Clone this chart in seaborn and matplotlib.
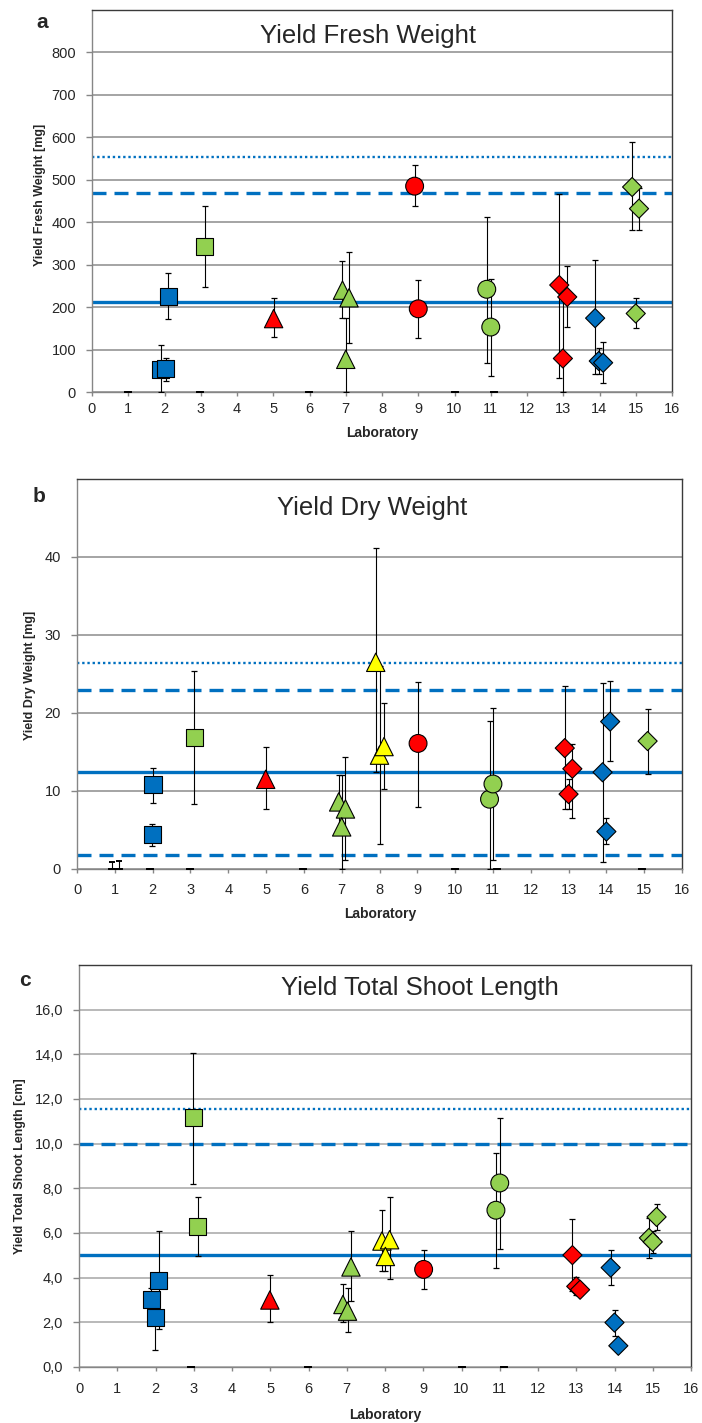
import pandas as pd
import seaborn as sns
import matplotlib.pyplot as plt
from matplotlib.ticker import FuncFormatter

# ---- values ----
# a: Yield Fresh Weight [mg]
lab_a = [2, 2, 2, 3, 5, 7, 7, 7, 9, 9, 11, 11, 13, 13, 13, 14, 14, 14, 15, 15, 15]
x_a = [1.9, 2.03, 2.1, 3.11, 5.01, 6.91, 7.09, 7.0, 8.9, 9.0, 10.89, 11.0,
       12.89, 13.11, 12.99, 13.88, 13.98, 14.1, 14.9, 15.09, 15.0]
y_a = [52, 55, 226, 343, 173, 240, 222, 77, 485, 196, 242, 153,
       252, 224, 79, 174, 73, 69, 483, 432, 185]
lo_a = [52, 28, 54, 95, 44, 65, 107, 77, 47, 68, 173, 116, 218, 70, 79, 132, 30, 48, 101, 51, 35]
hi_a = [58, 25, 55, 95, 48, 69, 109, 98, 50, 69, 171, 113, 215, 72, 150, 136, 30, 48, 105, 48, 36]
zero_x_a = [1.0, 2.97, 5.98, 10.0, 11.1]
zero_hi_a = [0, 0, 0, 0, 0]
ref_a = [211, 470, 553]          # mean, dashed, dotted

# b: Yield Dry Weight [mg]
lab_b = [2, 2, 3, 5, 7, 7, 7, 8, 8, 8, 9, 11, 11, 13, 13, 13, 14, 14, 14, 15]
x_b = [2.01, 1.99, 3.1, 4.99, 6.92, 7.1, 7.0, 7.9, 8.0, 8.12, 9.02, 10.91, 11.0,
       12.9, 13.1, 13.0, 13.9, 14.1, 14.0, 15.09]
y_b = [10.8, 4.4, 16.9, 11.5, 8.6, 7.7, 5.4, 26.5, 14.6, 15.7, 16.1, 8.95, 10.9,
       15.5, 12.85, 9.6, 12.4, 18.9, 4.8, 16.4]
lo_b = [2.3, 1.5, 8.6, 3.8, 3.4, 6.6, 5.4, 14.1, 11.4, 5.5, 8.1, 8.95, 9.8,
        7.8, 6.35, 1.9, 11.5, 5.0, 1.6, 4.2]
hi_b = [2.1, 1.4, 8.5, 4.1, 3.4, 6.7, 6.6, 14.7, 11.4, 5.6, 7.9, 10.05, 9.8,
        7.9, 3.15, 1.9, 11.4, 5.2, 1.7, 4.1]
zero_x_b = [0.92, 1.12, 1.93, 2.98, 5.98, 10.0, 11.1, 14.93]
zero_hi_b = [0.95, 1.07, 0, 0, 0, 0, 0, 0]
ref_b = [12.4, 23.0, 26.4, 1.8]  # mean, dashed, dotted, dashed

# c: Yield Total Shoot Length [cm]
lab_c = [2, 2, 2, 3, 3, 5, 7, 7, 7, 8, 8, 8, 9, 11, 11, 13, 13, 13, 14, 14, 14, 15, 15, 15]
x_c = [1.89, 1.99, 2.08, 2.99, 3.1, 4.99, 6.9, 7.02, 7.11, 7.92, 8.12, 8.01, 9.01,
       10.9, 11.0, 12.9, 13.0, 13.1, 13.9, 14.0, 14.1, 14.9, 15.0, 15.1]
y_c = [3.03, 2.2, 3.88, 11.15, 6.29, 3.0, 2.8, 2.5, 4.48, 5.64, 5.7, 4.95, 4.37,
       7.02, 8.24, 5.01, 3.61, 3.46, 4.45, 1.99, 0.95, 5.78, 5.6, 6.72]
lo_c = [0.5, 1.45, 2.18, 2.95, 1.3, 1.0, 0.8, 0.92, 1.52, 1.34, 1.77, 0.65, 0.87,
        2.57, 2.94, 1.6, 0.4, 0.25, 0.78, 0.58, 0.25, 0.91, 0.5, 0.58]
hi_c = [0.5, 0.6, 2.19, 2.92, 1.33, 1.1, 0.9, 1.05, 1.62, 1.38, 1.9, 0.65, 0.87,
        2.58, 2.89, 1.62, 0.4, 0.25, 0.78, 0.57, 0.25, 0.87, 0.5, 0.6]
zero_x_c = [2.93, 5.98, 10.0, 11.1]
zero_hi_c = [0, 0, 0, 0]
ref_c = [5.0, 10.0, 11.57]

# ---- styling per laboratory ----
lab_color = {2: '#0070C0', 3: '#92D050', 5: '#FF0000', 7: '#92D050', 8: '#FFFF00',
             9: '#FF0000', 11: '#92D050', 13: '#FF0000', 14: '#0070C0', 15: '#92D050'}
lab_marker = {2: 's', 3: 's', 5: '^', 7: '^', 8: '^', 9: 'o', 11: 'o',
              13: 'D', 14: 'D', 15: 'D'}
marker_size = {'s': 150, '^': 175, 'o': 165, 'D': 95}

BLUE = '#0070C0'

sns.set_style('white')
plt.rcParams['font.family'] = ['Liberation Sans', 'DejaVu Sans']

W, H = 702, 1423
fig = plt.figure(figsize=(W / 100, H / 100), dpi=100)


def box(l, t, r, b):
    return [l / W, 1 - b / H, (r - l) / W, (b - t) / H]


def ftext(x, y, s, **kw):
    fig.text(x / W, 1 - y / H, s, **kw)


def panel(rect, lab, x, y, lo, hi, zx, zhi, refs, ylim, yticks, fmt, xpad, gridc):
    ax = fig.add_axes(rect)
    df = pd.DataFrame({'x': x, 'y': y, 'lab': [str(v) for v in lab]})
    keys = sorted(set(lab))
    ax.set_xlim(0, 16)
    ax.set_ylim(*ylim)
    ax.set_yticks(yticks)
    ax.set_xticks(range(17))
    ax.yaxis.set_major_formatter(FuncFormatter(fmt))
    ax.grid(axis='y', color=gridc, lw=1.1, zorder=0)
    ax.grid(axis='x', visible=False)
    ax.set_axisbelow(True)

    # reference lines
    ax.axhline(refs[0], color=BLUE, lw=2.4, zorder=2)
    ax.axhline(refs[1], color=BLUE, lw=2.4, ls=(0, (4.2, 2.4)), zorder=2)
    ax.axhline(refs[2], color=BLUE, lw=1.7, ls=(0, (1, 1.2)), zorder=2)
    for v in refs[3:]:
        ax.axhline(v, color=BLUE, lw=2.4, ls=(0, (4.2, 2.4)), zorder=2)

    # labs without values (plotted at zero)
    ax.errorbar(zx, [0] * len(zx), yerr=[[0] * len(zx), zhi], fmt='_', color='black',
                ms=6, mew=1.4, elinewidth=0.8, capsize=2.5, capthick=0.8, zorder=3)
    ax.errorbar(x, y, yerr=[lo, hi], fmt='none', ecolor='black', elinewidth=0.8,
                capsize=2.5, capthick=0.9, zorder=3)
    sns.scatterplot(data=df, x='x', y='y', hue='lab', style='lab', size='lab',
                    palette={str(k): lab_color[k] for k in keys},
                    markers={str(k): lab_marker[k] for k in keys},
                    sizes={str(k): marker_size[lab_marker[k]] for k in keys},
                    edgecolor='black', linewidth=0.8, legend=False, zorder=4, ax=ax)
    ax.set_xlabel('')
    ax.set_ylabel('')
    for s in ['left', 'bottom']:
        ax.spines[s].set_color('#868686')
    for s in ['top', 'right']:
        ax.spines[s].set_color('#3a3a3a')
    for s in ax.spines.values():
        s.set_linewidth(1.0)
    ax.tick_params(axis='y', direction='out', length=4, width=1, color='#868686',
                   pad=7.5, labelsize=10.5, left=True)
    ax.tick_params(axis='x', direction='out', length=3, width=1, color='#868686',
                   pad=xpad, labelsize=10.5, bottom=True)
    return ax


panel(box(92, 10, 672, 392), lab_a, x_a, y_a, lo_a, hi_a, zero_x_a, zero_hi_a, ref_a,
      (0, 900), range(0, 801, 100), lambda v, p: f'{v:.0f}', 4.5, '#8c8c8c')
panel(box(77, 479, 682, 869), lab_b, x_b, y_b, lo_b, hi_b, zero_x_b, zero_hi_b, ref_b,
      (0, 50), range(0, 41, 10), lambda v, p: f'{v:.0f}', 7, '#8c8c8c')
panel(box(79, 965, 691, 1367), lab_c, x_c, y_c, lo_c, hi_c, zero_x_c, zero_hi_c, ref_c,
      (0, 18), range(0, 17, 2), lambda v, p: f'{v:.1f}'.replace('.', ','), 8, '#a6a6a6')

# titles, panel letters and axis labels
ftext(368, 43, 'Yield Fresh Weight', fontsize=18.5, ha='center', va='baseline')
ftext(372, 515, 'Yield Dry Weight', fontsize=18.5, ha='center', va='baseline')
ftext(420, 995, 'Yield Total Shoot Length', fontsize=18.5, ha='center', va='baseline')

ftext(42, 23, 'a', fontsize=15, fontweight='bold', ha='center', va='center')
ftext(39, 497, 'b', fontsize=15, fontweight='bold', ha='center', va='center')
ftext(25, 981, 'c', fontsize=15, fontweight='bold', ha='center', va='center')

ftext(40, 195, 'Yield Fresh Weight [mg]', fontsize=9, fontweight='bold',
      rotation=90, ha='center', va='center')
ftext(30, 675, 'Yield Dry Weight [mg]', fontsize=9, fontweight='bold',
      rotation=90, ha='center', va='center')
ftext(20, 1166, 'Yield Total Shoot Length [cm]', fontsize=9, fontweight='bold',
      rotation=90, ha='center', va='center')

ftext(382, 433, 'Laboratory', fontsize=10, fontweight='bold', ha='center', va='center')
ftext(380, 914, 'Laboratory', fontsize=10, fontweight='bold', ha='center', va='center')
ftext(385, 1415, 'Laboratory', fontsize=10, fontweight='bold', ha='center', va='center')

fig.savefig('out.png', dpi=100)
